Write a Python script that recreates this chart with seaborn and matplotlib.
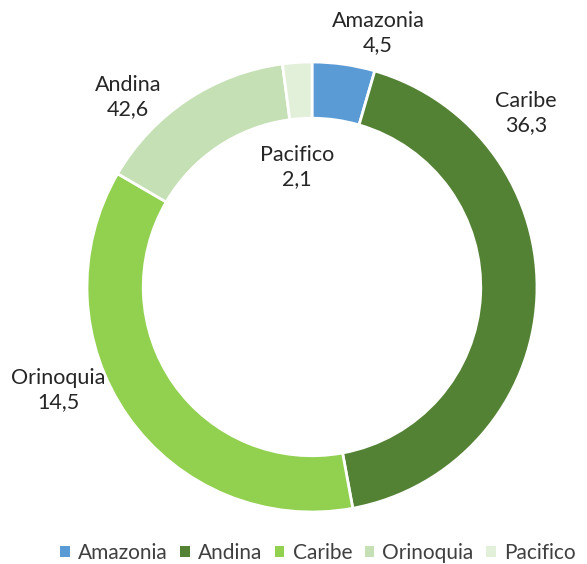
import matplotlib
matplotlib.use("Agg")
import matplotlib.pyplot as plt
import seaborn as sns
from matplotlib.patches import Patch

sns.set_theme(style="white")
plt.rcParams['font.family'] = ['Lato', 'DejaVu Sans']

# Slice data (legend order)
categories = ["Amazonia", "Andina", "Caribe", "Orinoquia", "Pacifico"]
values = [4.5, 42.6, 36.3, 14.5, 2.1]
colors = ["#5B9BD5", "#548235", "#92D050", "#C5E0B4", "#E2F0D9"]

# Data labels as shown on the chart (clockwise from top)
label_names = ["Amazonia", "Caribe", "Orinoquia", "Andina", "Pacifico"]
label_values = ["4,5", "36,3", "14,5", "42,6", "2,1"]
# label centres in pixel coordinates of the figure
label_pos_px = [(378, 33), (526, 113), (58, 390), (128, 97), (297, 167)]

W, H = 587, 564
fig = plt.figure(figsize=(W / 100, H / 100), dpi=100)
cx, cy, R = 312, 287, 225
ax = fig.add_axes([(cx - R) / W, (H - cy - R) / H, 2 * R / W, 2 * R / H])
ax.pie(values, colors=colors, startangle=90, counterclock=False, radius=1,
       wedgeprops=dict(width=0.25, edgecolor="white", linewidth=2))
ax.set_xlim(-1, 1)
ax.set_ylim(-1, 1)
ax.set_aspect("equal")
ax.axis("off")

for name, val, (px, py) in zip(label_names, label_values, label_pos_px):
    fig.text(px / W, 1 - py / H, f"{name}\n{val}", ha="center", va="center",
             fontsize=15.5, color="#262626", linespacing=1.2)

handles = [Patch(facecolor=c, edgecolor="none", label=l) for c, l in zip(colors, categories)]
fig.legend(handles=handles, loc="center", bbox_to_anchor=(318 / W, 1 - 553 / H),
           ncol=5, frameon=False, fontsize=15, handlelength=0.45, handleheight=0.45,
           handletextpad=0.4, columnspacing=0.6, labelcolor="#404040",
           borderpad=0.1)

fig.savefig("out.png", dpi=100)
